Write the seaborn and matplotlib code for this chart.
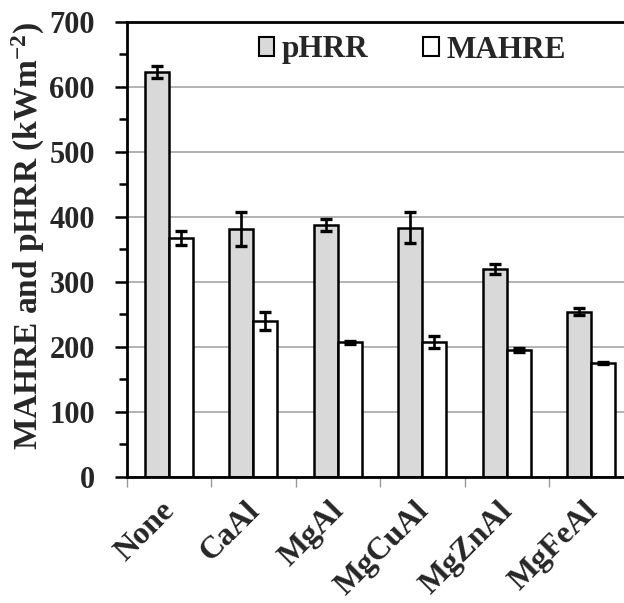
import numpy as np
import pandas as pd
import matplotlib
matplotlib.use("Agg")
import matplotlib.pyplot as plt
import matplotlib.transforms as mtransforms
import seaborn as sns

categories = ["None", "CaAl", "MgAl", "MgCuAl", "MgZnAl", "MgFeAl"]
series_names = ["pHRR", "MAHRE"]
phrr = [623, 381, 388, 383, 320, 254]
phrr_err = [9, 26, 9, 24, 8, 5]
mahre = [367, 240, 207, 207, 195, 175]
mahre_err = [11, 14, 2, 9, 3, 2]
yticks = [0, 100, 200, 300, 400, 500, 600, 700]
ylabel = "MAHRE and pHRR (kWm$^{-2}$)"

sns.set_style("white")
plt.rcParams["font.family"] = ["Liberation Serif", "DejaVu Serif"]
plt.rcParams["font.weight"] = "bold"
plt.rcParams["mathtext.fontset"] = "custom"
plt.rcParams["mathtext.rm"] = "Liberation Serif:bold"
plt.rcParams["mathtext.it"] = "Liberation Serif:bold"
plt.rcParams["mathtext.bf"] = "Liberation Serif:bold"

df = pd.DataFrame({
    "category": categories * 2,
    "series": [series_names[0]] * len(categories) + [series_names[1]] * len(categories),
    "value": phrr + mahre,
})
errs = {series_names[0]: phrr_err, series_names[1]: mahre_err}

fig = plt.figure(figsize=(6.24, 6.03), dpi=100)
ax = fig.add_axes([0.203, 0.2095, 0.8125, 0.754])

sns.barplot(data=df, x="category", y="value", hue="series",
            order=categories, hue_order=series_names,
            palette={"pHRR": "#d9d9d9", "MAHRE": "white"},
            edgecolor="black", linewidth=1.8, width=0.568, gap=0,
            errorbar=None, ax=ax, zorder=2)

for cont, name in zip(ax.containers, series_names):
    xs = [b.get_x() + b.get_width() / 2 for b in cont]
    ys = [b.get_height() for b in cont]
    ax.errorbar(xs, ys, yerr=errs[name], fmt="none", ecolor="black",
                elinewidth=1.9, capsize=4.3, capthick=2.4, zorder=3)

ax.set_xlim(-0.5, 5.5)
ax.set_ylim(0, 700)
ax.set_yticks(yticks)
ax.set_yticks(np.arange(50, 700, 100), minor=True)
ax.set_yticklabels([str(t) for t in yticks], fontsize=22, fontweight="bold")
ax.set_xticks(range(len(categories)))
ax.set_xticklabels(categories, rotation=45, ha="right", fontsize=23, fontweight="bold")
ax.set_xticks(np.arange(-0.5, 6, 1), minor=True)

ax.tick_params(axis="y", which="major", direction="out", length=9, width=1.8,
               color="black", pad=14, left=True)
ax.tick_params(axis="y", which="minor", direction="out", length=6, width=1.8,
               color="black", left=True)
ax.tick_params(axis="x", which="major", length=0, pad=14)
ax.tick_params(axis="x", which="minor", direction="out", length=7, width=1,
               color="#999999", bottom=True)

shift = mtransforms.ScaledTranslation(12 / 100, 0, fig.dpi_scale_trans)
for tick in ax.xaxis.get_major_ticks():
    tick.label1.set_transform(tick.label1.get_transform() + shift)

ax.yaxis.grid(True, color="#a6a6a6", linewidth=1.2, zorder=0)
ax.xaxis.grid(False)
ax.set_axisbelow(True)

for s in ["left", "bottom", "top"]:
    ax.spines[s].set_visible(True)
    ax.spines[s].set_color("black")
    ax.spines[s].set_linewidth(2)
ax.spines["right"].set_visible(False)

ax.set_xlabel("")
ax.set_ylabel(ylabel, fontsize=24, fontweight="bold")
ax.yaxis.set_label_coords(-0.158, 0.53)

leg = ax.legend(loc="center", bbox_to_anchor=(412.5 / 624, 1 - 50 / 603),
                bbox_transform=fig.transFigure, ncol=2, frameon=False,
                prop={"family": "Liberation Serif", "weight": "bold", "size": 22.5},
                handlelength=0.5, handleheight=0.55, handletextpad=0.25,
                columnspacing=1.75, borderpad=0)
for h in leg.legend_handles:
    h.set_edgecolor("black")
    h.set_linewidth(1.5)

fig.savefig("out.png", dpi=100)
